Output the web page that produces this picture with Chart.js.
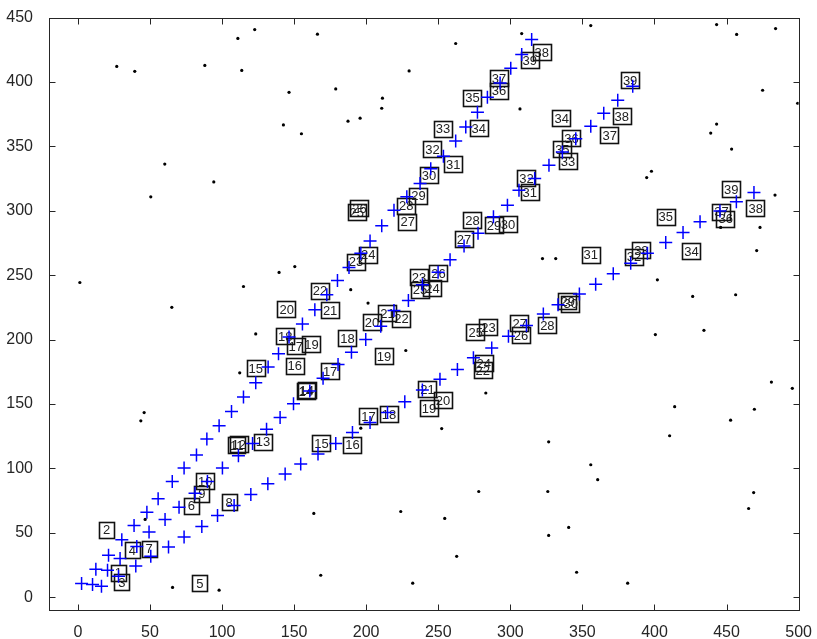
<!DOCTYPE html>
<html>
<head>
<meta charset="utf-8">
<script src="https://cdn.jsdelivr.net/npm/chart.js@4.4.1/dist/chart.umd.min.js"></script>
<style>
  html, body { margin: 0; padding: 0; background: #fff; }
</style>
</head>
<body>
<canvas id="c" width="817" height="639"></canvas>
<script>
// track estimates (blue plus), one point per frame
const trackA = [[2.6,10.6],[12.5,21.7],[21.3,32.5],[30.5,44.6],[39.0,55.7],[47.9,66.0],[55.7,76.3],[65.5,89.7],
  [73.7,100.3],[82.3,110.3],[89.5,122.7],[98.0,133.0],[106.6,144.1],[114.9,155.4],[123.4,166.5],[132.0,178.6],
  [139.2,188.9],[146.5,202.0],[155.8,212.1],[164.4,223.2],[172.7,234.8],[180.1,245.9],[188.1,255.9],[196.3,267.0],
  [202.7,276.6],[210.8,288.4],[219.3,300.5],[228.2,310.8],[237.4,321.1],[244.8,332.7],[253.6,342.3],[262.1,354.1],
  [269.1,365.0],[277.2,376.6],[284.1,388.2],[292.9,399.2],[300.3,410.6],[307.9,421.4],[314.8,433.0]];
const trackB = [[10.2,9.8],[20.6,20.9],[29.3,29.9],[40.9,39.4],[49.4,50.5],[60.5,60.3],[70.2,69.8],[81.3,80.6],
  [89.9,89.7],[100.3,100.3],[111.4,109.8],[121.2,119.3],[130.9,130.4],[140.3,139.4],[149.6,150.2],[160.9,160.1],
  [170.1,169.9],[180.5,180.7],[189.8,190.2],[199.7,200.0],[210.1,210.3],[219.3,222.5],[229.3,230.4],[239.0,242.6],
  [249.9,252.3],[258.2,261.9],[267.9,272.7],[277.6,282.5],[288.3,295.4],[298.0,304.3],[306.0,316.0],[316.9,325.0],
  [326.8,335.3],[336.1,345.6],[345.4,355.9],[355.8,365.7],[364.8,375.8],[374.5,385.8],[384.9,396.7]];
const trackC = [[16.4,8.5],[28.2,16.2],[40.2,24.2],[50.6,31.7],[62.9,38.9],[73.7,46.6],[86.0,54.9],[96.9,63.4],
  [108.4,71.1],[120.0,79.6],[131.8,88.1],[143.8,95.6],[154.6,103.4],[166.6,111.1],[178.9,119.3],[190.5,127.8],
  [202.7,135.5],[214.8,143.3],[226.8,151.8],[239.0,160.8],[251.2,169.1],[263.3,176.8],[274.4,185.8],[287.1,193.5],
  [298.7,202.6],[311.2,210.9],[322.9,219.8],[333.1,227.1],[347.9,235.4],[359.2,243.0],[371.4,251.1],[383.5,259.3],
  [395.1,267.0],[407.8,275.3],[419.8,283.2],[431.6,291.5],[445.4,299.8],[456.8,307.0],[469.0,314.2]];

// clutter measurements (black dots)
const clutter = [[1.4,244.3],[27.0,412.1],[39.5,408.3],[88.1,412.9],[94.3,322.4],[60.3,336.3],[50.6,310.8],
  [46.0,143.3],[43.7,136.9],[65.2,225.0],[111.0,433.8],[122.7,440.7],[113.7,409.0],[142.6,366.7],[146.5,392.0],
  [155.1,359.8],[166.2,437.1],[178.9,394.6],[187.4,369.6],[195.8,371.9],[211.3,387.4],[210.8,379.6],[229.8,408.6],
  [262.1,429.9],[306.7,379.1],[307.9,437.6],[150.5,256.7],[139.6,252.1],[114.9,241.2],[189.3,238.7],[201.3,228.3],
  [123.4,204.4],[112.3,174.2],[46.7,60.3],[65.7,7.5],[98.0,5.4],[227.5,191.5],[196.3,131.2],[252.4,130.9],
  [322.3,262.9],[331.5,262.9],[397.9,330.7],[394.6,325.8],[483.6,312.2],[445.9,287.1],[473.2,287.1],[470.9,269.1],
  [402.0,246.4],[426.5,233.5],[456.3,234.8],[400.6,203.9],[434.3,207.2],[481.1,167.0],[495.6,162.1],[414.0,147.9],
  [469.3,145.9],[452.8,137.4],[163.7,65.0],[168.5,17.0],[224.0,66.5],[232.3,10.8],[254.5,61.1],[262.8,31.7],
  [278.1,82.0],[283.0,158.5],[326.0,82.0],[326.6,47.9],[326.6,120.6],[340.5,54.1],[346.0,19.3],[355.8,102.8],
  [360.6,91.2],[381.4,10.8],[410.5,125.3],[355.8,443.8],[443.1,444.6],[457.0,436.9],[484.0,441.5],[475.0,393.6],
  [499.3,383.5],[439.0,360.3],[443.1,367.3],[453.5,347.9],[465.3,68.8],[468.8,81.2]];

// frame-number labels on detections: [x, y, text]
const labelsEarly = [[28.2,19.1,'1'],[19.9,52.3,'2'],[30.5,11.8,'3'],[37.9,36.3,'4'],[84.6,10.6,'5'],
  [78.8,71.1,'6'],[49.4,37.7,'7'],[104.9,73.7,'8'],[86.0,80.2,'9'],[88.3,89.9,'10'],[110.3,117.9,'11'],
  [111.7,118.7,'12'],[128.5,120.6,'13'],[158.1,160.1,'14'],[158.8,160.6,'14']];
const labelsA = [[123.4,177.6,'15'],[150.5,179.8,'16'],[151.2,194.8,'17'],[143.9,202.6,'18'],[162.1,196.2,'19'],
  [144.9,223.7,'20'],[175.0,222.7,'21'],[168.0,237.9,'22'],[193.0,260.6,'23'],[201.5,266.0,'24'],
  [193.5,298.9,'25'],[195.4,301.9,'26'],[228.8,291.5,'27'],[227.8,303.9,'28'],[236.3,311.6,'29'],
  [243.6,327.8,'30'],[260.4,336.0,'31'],[246.0,347.9,'32'],[253.3,363.6,'33'],[278.1,364.2,'34'],
  [273.7,387.9,'35'],[292.2,393.3,'36'],[292.2,402.8,'37'],[321.8,423.0,'38'],[313.5,416.8,'39']];
const labelsB = [[175.0,175.5,'17'],[187.0,201.0,'18'],[212.4,186.9,'19'],[204.1,213.4,'20'],[214.8,220.6,'21'],
  [224.5,216.3,'22'],[236.7,248.2,'23'],[246.0,239.7,'24'],[237.4,238.7,'25'],[250.1,251.5,'26'],
  [267.9,278.1,'27'],[273.7,292.8,'28'],[288.7,288.9,'29'],[298.4,289.4,'30'],[313.5,314.2,'31'],
  [311.2,325.5,'32'],[340.0,338.7,'33'],[335.6,371.9,'34'],[336.1,347.7,'35'],[342.4,356.5,'36'],
  [368.9,358.8,'37'],[377.3,373.5,'38'],[383.1,401.3,'39']];
const labelsC = [[169.0,119.3,'15'],[190.5,118.3,'16'],[201.6,140.7,'17'],[215.9,142.0,'18'],[243.6,146.7,'19'],
  [253.3,153.1,'20'],[242.5,161.4,'21'],[280.9,176.3,'22'],[284.8,209.5,'23'],[281.6,181.7,'24'],
  [276.0,205.7,'25'],[307.4,203.4,'26'],[306.5,212.6,'27'],[325.7,211.1,'28'],[339.8,229.6,'29'],
  [341.9,227.7,'30'],[355.8,266.0,'31'],[385.8,264.4,'32'],[390.9,269.6,'33'],[425.6,268.8,'34'],
  [407.8,295.4,'35'],[449.4,294.0,'36'],[446.4,299.2,'37'],[470.2,301.8,'38'],[453.3,316.8,'39']];

const xTicks = [0, 50, 100, 150, 200, 250, 300, 350, 400, 450, 500];
const yTicks = [0, 50, 100, 150, 200, 250, 300, 350, 400, 450];

const AXIS = '#262626';
const FONT = '"Liberation Sans", Arial, sans-serif';
const pts = a => a.map(p => ({ x: p[0], y: p[1] }));
const allLabels = labelsEarly.concat(labelsA, labelsB, labelsC);

// boxed frame numbers, drawn under the markers
const boxLabels = {
  id: 'boxLabels',
  beforeDatasetsDraw(chart) {
    const { ctx, scales: { x, y } } = chart;
    ctx.save();
    ctx.font = '13px ' + FONT;
    ctx.textAlign = 'center';
    ctx.textBaseline = 'middle';
    ctx.lineWidth = 1.6;
    ctx.strokeStyle = '#111';
    ctx.fillStyle = '#222';
    allLabels.forEach(l => {
      const px = x.getPixelForValue(l[0]);
      const py = y.getPixelForValue(l[1]);
      const w = Math.max(15, ctx.measureText(l[2]).width + 4);
      const h = 16;
      ctx.strokeRect(Math.round(px - w / 2) + 0.5, Math.round(py - h / 2) + 0.5, Math.round(w), h);
      ctx.fillText(l[2], px, py + 1);
    });
    ctx.restore();
  }
};

// box around the plot with inward ticks on all four sides
const frame = {
  id: 'frame',
  afterDraw(chart) {
    const { ctx, chartArea: a, scales: { x, y } } = chart;
    const L = Math.round(a.left) + 0.5, R = Math.round(a.right) + 0.5;
    const T = Math.round(a.top) + 0.5, B = Math.round(a.bottom) + 0.5;
    const len = 6;
    ctx.save();
    ctx.strokeStyle = AXIS;
    ctx.lineWidth = 1;
    ctx.strokeRect(L, T, R - L, B - T);
    ctx.beginPath();
    xTicks.forEach(v => {
      const px = Math.round(x.getPixelForValue(v)) + 0.5;
      ctx.moveTo(px, B); ctx.lineTo(px, B - len);
      ctx.moveTo(px, T); ctx.lineTo(px, T + len);
    });
    yTicks.forEach(v => {
      const py = Math.round(y.getPixelForValue(v)) + 0.5;
      ctx.moveTo(L, py); ctx.lineTo(L + len, py);
      ctx.moveTo(R, py); ctx.lineTo(R - len, py);
    });
    ctx.stroke();
    ctx.restore();
  }
};

const crossStyle = {
  pointStyle: 'cross',
  pointRadius: 6.5,
  borderColor: '#0000ff',
  backgroundColor: '#0000ff',
  borderWidth: 1.5,
  showLine: false
};

new Chart(document.getElementById('c'), {
  type: 'scatter',
  data: {
    datasets: [
      { label: 'clutter', data: pts(clutter), pointStyle: 'circle', pointRadius: 1.6,
        backgroundColor: '#000', borderWidth: 0 },
      Object.assign({ label: 'track 1', data: pts(trackA) }, crossStyle),
      Object.assign({ label: 'track 2', data: pts(trackB) }, crossStyle),
      Object.assign({ label: 'track 3', data: pts(trackC) }, crossStyle)
    ]
  },
  options: {
    responsive: false,
    devicePixelRatio: 1,
    animation: false,
    layout: { padding: { top: 15, right: 18, left: 0, bottom: 0 } },
    plugins: { legend: { display: false }, tooltip: { enabled: false } },
    scales: {
      x: {
        type: 'linear', min: -20, max: 500,
        afterBuildTicks: s => { s.ticks = xTicks.map(v => ({ value: v })); },
        afterFit: s => { s.height = 29; },
        grid: { display: false },
        border: { display: false },
        ticks: { color: AXIS, padding: 5, maxRotation: 0, font: { family: FONT, size: 16 } }
      },
      y: {
        type: 'linear', min: -10, max: 450,
        afterBuildTicks: s => { s.ticks = yTicks.map(v => ({ value: v })); },
        afterFit: s => { s.width = 49; },
        grid: { display: false },
        border: { display: false },
        ticks: { color: AXIS, padding: 8, font: { family: FONT, size: 16 } }
      }
    }
  },
  plugins: [boxLabels, frame]
});
</script>
</body>
</html>
